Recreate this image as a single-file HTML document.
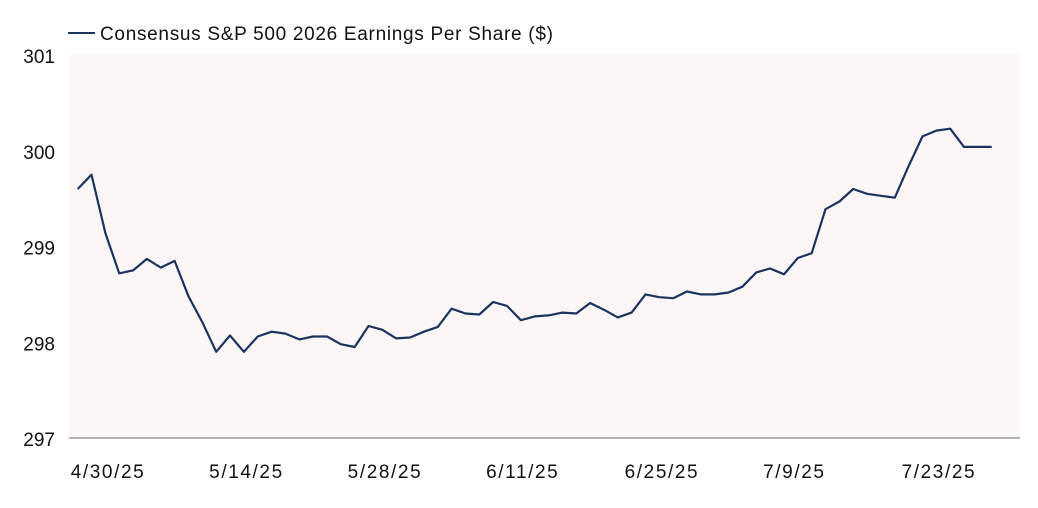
<!DOCTYPE html>
<html><head><meta charset="utf-8"><style>
html,body{margin:0;padding:0;background:#fff;}
svg{display:block;font-family:"Liberation Sans",sans-serif;}
</style></head><body>
<svg id="chart" width="1038" height="508" viewBox="0 0 1038 508" xmlns="http://www.w3.org/2000/svg">
<rect x="69" y="54" width="951" height="384" fill="#fcf7f6"/>
<g>
<line x1="68" y1="33" x2="95" y2="33" stroke="#1b335f" stroke-width="2"/>
<text x="100" y="40" font-size="19" letter-spacing="0.7" fill="#111">Consensus S&amp;P 500 2026 Earnings Per Share ($)</text>
</g>
<g id="yaxis"></g>
<g id="xaxis"></g>
<line x1="69" y1="438" x2="1020" y2="438" stroke="#888" stroke-width="1.3"/>
<path id="series" fill="none" stroke="#1b335f" stroke-width="2.2" stroke-linejoin="round"/>
</svg>
<script>
const values = [299.60,299.75,299.14,298.72,298.75,298.87,298.78,298.85,298.48,298.21,
297.90,298.07,297.90,298.06,298.11,298.09,298.03,298.06,298.06,297.98,
297.95,298.17,298.13,298.04,298.05,298.11,298.16,298.35,298.30,298.29,
298.42,298.38,298.23,298.27,298.28,298.31,298.30,298.41,298.34,298.26,
298.31,298.50,298.47,298.46,298.53,298.50,298.50,298.52,298.58,298.73,
298.77,298.71,298.88,298.93,299.39,299.47,299.60,299.55,299.53,299.51,
299.84,300.15,300.21,300.23,300.04,300.04,300.04];
const xTickLabels = ["4/30/25","5/14/25","5/28/25","6/11/25","6/25/25","7/9/25","7/23/25"];
const xTickIndex = [0,10,20,30,40,50,60];
const yTicks = [297,298,299,300,301];

const NS = "http://www.w3.org/2000/svg";
const yMin = 297, yMax = 301, plotTop = 55, plotBottom = 438;
function yScale(v){ return plotBottom - (v - yMin) / (yMax - yMin) * (plotBottom - plotTop); }
const xStart = 77.7, xEnd = 991.7;
function xScale(i){ return xStart + i * (xEnd - xStart) / (values.length - 1); }

const yg = document.getElementById('yaxis');
yTicks.forEach(t => {
  const el = document.createElementNS(NS, 'text');
  
  
  el.setAttribute('x', 55);
  el.setAttribute('y', yScale(t) + 8);
  el.setAttribute('text-anchor', 'end');
  el.setAttribute('font-size', '19');
  el.setAttribute('fill', '#111');
  el.textContent = t;
  yg.appendChild(el);
});

const xg = document.getElementById('xaxis');
xTickLabels.forEach((lab, k) => {
  const el = document.createElementNS(NS, 'text');
  
  
  el.setAttribute('x', xScale(xTickIndex[k]) - 7);
  el.setAttribute('y', 478);
  el.setAttribute('font-size', '19');
  el.setAttribute('letter-spacing', '1.6');
  el.setAttribute('fill', '#111');
  el.textContent = lab;
  xg.appendChild(el);
});

document.getElementById('series').setAttribute('d',
  values.map((v, i) => (i ? 'L' : 'M') + xScale(i).toFixed(1) + ' ' + yScale(v).toFixed(1)).join(' '));
</script>
</body></html>
